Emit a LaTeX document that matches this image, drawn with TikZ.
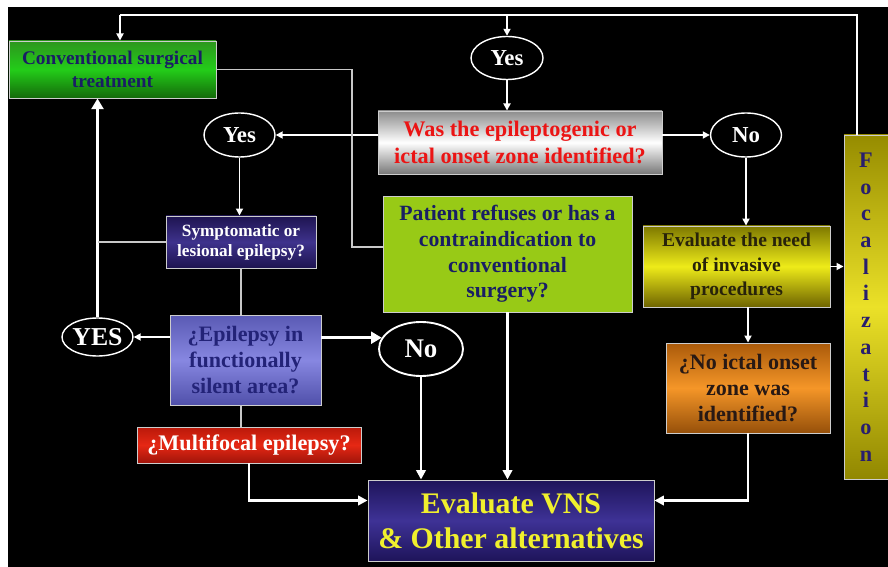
\documentclass[tikz,border=0pt]{standalone}
\usepackage{fontspec}
\setmainfont{Liberation Serif}
\usetikzlibrary{shapes.geometric,arrows.meta}

\definecolor{boxline}{RGB}{205,205,205}
\definecolor{linkgrey}{RGB}{200,200,200}
\definecolor{navytext}{RGB}{25,30,100}
\definecolor{redtext}{RGB}{235,20,20}
\definecolor{limegreen}{RGB}{152,202,22}
\definecolor{vnsyellow}{RGB}{240,240,45}

\begin{document}
\begin{tikzpicture}
          [box/.style={shape=rectangle,draw=boxline,line width=0.8pt,align=center,inner sep=1pt},
          oval/.style={shape=ellipse,draw=white,line width=1.2pt,text=white,inner sep=0pt,
            font=\fontsize{19.5}{22}\selectfont\bfseries},
          link/.style={draw=linkgrey,line width=0.9pt},
          edge/.style={draw=white,line width=1.4pt},
          arc/.style={edge,-{Triangle[length=6pt,width=6pt]}},
          midarc/.style={draw=white,line width=2pt,-{Triangle[length=8pt,width=8pt]}},
          bigarc/.style={draw=white,line width=3pt,-{Triangle[length=9pt,width=10pt]}}]

            \useasboundingbox (0,0) rectangle (26.64,-17.01);
            \fill [white] (0,0) rectangle (26.64,-17.01);
            \fill [black] (0.24,-0.21) rectangle (26.64,-17.01);

            \node (conv) [box,minimum width=6.21cm,minimum height=1.71cm,
              top color={rgb,255:red,45;green,150;blue,30},bottom color={rgb,255:red,20;green,105;blue,10},
              middle color={rgb,255:red,35;green,205;blue,25},text=navytext,
              font=\fontsize{16.5}{19.5}\selectfont\bfseries] at (3.375,-2.085)
              {Conventional surgical\\treatment};
            \node (yesT) [oval,minimum width=2.16cm,minimum height=1.29cm] at (15.21,-1.74) {Yes};
            \node (was) [box,minimum width=8.52cm,minimum height=1.89cm,
              top color={rgb,255:red,140;green,140;blue,140},bottom color={rgb,255:red,120;green,120;blue,120},
              middle color=white,text=redtext,
              font=\fontsize{19}{23}\selectfont\bfseries] at (15.6,-4.275)
              {Was the epileptogenic or\\ictal onset zone identified?};
            \node (yesL) [oval,minimum width=2.13cm,minimum height=1.32cm] at (7.185,-4.05) {Yes};
            \node (noR) [oval,minimum width=2.13cm,minimum height=1.32cm] at (22.38,-4.05) {No};
            \node (symp) [box,minimum width=4.5cm,minimum height=1.56cm,
              top color={rgb,255:red,30;green,20;blue,80},bottom color={rgb,255:red,30;green,20;blue,80},
              middle color={rgb,255:red,62;green,50;blue,140},text=white,
              font=\fontsize{14.7}{17}\selectfont\bfseries] at (7.23,-7.26)
              {Symptomatic or\\lesional epilepsy?};
            \node (pat) [box,minimum width=7.47cm,minimum height=3.48cm,fill=limegreen,text=navytext,
              font=\fontsize{18.6}{22}\selectfont\bfseries] at (15.225,-7.62)
              {Patient refuses or has a\\contraindication to\\conventional\\surgery?};
            \node (need) [box,minimum width=5.61cm,minimum height=2.43cm,
              top color={rgb,255:red,125;green,120;blue,0},bottom color={rgb,255:red,110;green,100;blue,0},
              middle color={rgb,255:red,238;green,235;blue,25},text={rgb,255:red,40;green,35;blue,10},
              font=\fontsize{16.7}{20.8}\selectfont\bfseries] at (22.095,-7.995)
              {Evaluate the need\\of invasive\\procedures};
            \node (focal) [box,minimum width=1.32cm,minimum height=10.32cm,
              top color={rgb,255:red,150;green,140;blue,0},bottom color={rgb,255:red,145;green,135;blue,0},
              middle color={rgb,255:red,235;green,225;blue,40},text={rgb,255:red,40;green,30;blue,110},
              font=\fontsize{19}{22.8}\selectfont\bfseries] at (25.98,-9.21)
              {F\\o\\c\\a\\l\\i\\z\\a\\t\\i\\o\\n};
            \node (yesB) [oval,minimum width=2.13cm,minimum height=1.14cm,
              font=\fontsize{22}{24}\selectfont\bfseries] at (2.925,-10.11) {YES};
            \node (epi) [box,minimum width=4.53cm,minimum height=2.7cm,
              top color={rgb,255:red,90;green,90;blue,180},bottom color={rgb,255:red,80;green,80;blue,170},
              middle color={rgb,255:red,135;green,135;blue,225},text={rgb,255:red,35;green,35;blue,120},
              font=\fontsize{18.8}{22}\selectfont\bfseries] at (7.365,-10.8)
              {¿Epilepsy in\\functionally\\silent area?};
            \node (noM) [oval,line width=1.6pt,minimum width=2.52cm,minimum height=1.62cm,
              font=\fontsize{23}{26}\selectfont\bfseries] at (12.63,-10.47) {No};
            \node (noict) [box,minimum width=4.92cm,minimum height=2.7cm,
              top color={rgb,255:red,170;green,90;blue,10},bottom color={rgb,255:red,150;green,80;blue,10},
              middle color={rgb,255:red,245;green,150;blue,40},text={rgb,255:red,40;green,25;blue,20},
              font=\fontsize{18.8}{22}\selectfont\bfseries] at (22.44,-11.64)
              {¿No ictal onset\\zone was\\identified?};
            \node (multi) [box,minimum width=6.72cm,minimum height=1.08cm,
              top color={rgb,255:red,185;green,25;blue,10},bottom color={rgb,255:red,160;green,20;blue,10},
              middle color={rgb,255:red,230;green,40;blue,20},text=white,
              font=\fontsize{19}{22}\selectfont\bfseries] at (7.47,-13.35)
              {¿Multifocal epilepsy?};
            \node (vns) [box,minimum width=8.58cm,minimum height=2.43cm,
              top color={rgb,255:red,30;green,20;blue,90},bottom color={rgb,255:red,30;green,20;blue,90},
              middle color={rgb,255:red,62;green,50;blue,150},text=vnsyellow,
              font=\fontsize{25.5}{30}\selectfont\bfseries] at (15.33,-15.615)
              {Evaluate VNS\\\& Other alternatives};

            \coordinate (topR) at (25.71,-0.45);
            \coordinate (topL) at (3.6,-0.45);
            \coordinate (bendx) at (10.56,0);

            \draw [edge] (focal.north -| topR) -- (topR) -- (topL);
            \draw [arc] (topL) -- (conv.north -| topL);
            \draw [arc] (topR -| yesT) -- (yesT);
            \draw [arc] (yesT) -- (yesT |- was.north);
            \draw [arc] (was.west |- yesL) -- (yesL);
            \draw [arc] (was.east |- noR) -- (noR);
            \draw [arc] (noR) -- (noR |- need.north);
            \draw [arc] (need.east) -- (need.east -| focal.west);
            \draw [arc] (need.south -| noict.north) -- (noict.north);
            \draw [midarc] (noict.south) |- ([yshift=0.6cm]vns.east);
            \draw [midarc] (multi.south) |- ([yshift=0.6cm]vns.west);
            \draw [midarc] (noM) -- (noM |- vns.north);
            \draw [midarc] (pat) -- (pat |- vns.north);
            \draw [bigarc] (epi.east |- noM.164) -- (noM.164);
            \draw [arc] (epi.west |- yesB) -- (yesB);
            \draw [bigarc] (yesB) -- (yesB |- conv.south);
            \draw [arc] (yesL) -- (yesL |- symp.north);
            \draw [link] (symp.west) -- (symp.west -| yesB);
            \draw [link] (symp) -- (symp |- epi.north);
            \draw [link] (epi.south -| symp) -- (multi.north -| symp);
            \draw [link] (conv.east) -- (conv.east -| bendx) |- ([yshift=0.21cm]pat.west);

        \end{tikzpicture}
\end{document}
